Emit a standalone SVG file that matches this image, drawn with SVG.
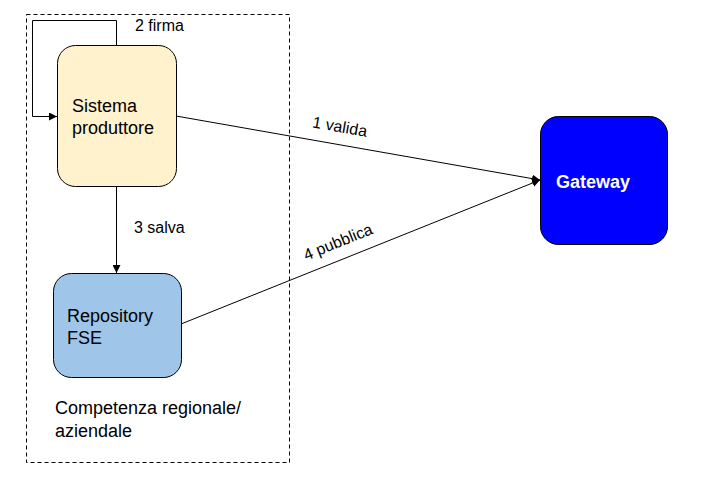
<svg xmlns="http://www.w3.org/2000/svg" width="709" height="487" viewBox="0 0 709 487">
<style>
text{font-family:"Liberation Sans",Arial,sans-serif;fill:#000}
.lbl{font-size:16px}
.nt{font-size:18px}
.edge{fill:none;stroke:#000;stroke-width:1}
</style>
<defs>
<marker id="ah" viewBox="0 0 10 10" refX="10" refY="5" markerWidth="8" markerHeight="8" markerUnits="userSpaceOnUse" orient="auto">
<path d="M0,0 L10,5 L0,10 z" fill="#000"/>
</marker>
</defs>
<rect width="709" height="487" fill="#fff"/>
<g id="container">
<rect x="26.5" y="14.5" width="263" height="448" fill="none" stroke="#000" stroke-dasharray="4,3"/>
<text class="nt" x="55" y="414">Competenza regionale/</text>
<text class="nt" x="55" y="437">aziendale</text>
</g>
<g id="sistema">
<rect x="57.5" y="45.5" width="119" height="141" rx="18" fill="#fff2cc" stroke="#000"/>
<text class="nt" x="72" y="112">Sistema</text>
<text class="nt" x="72" y="134">produttore</text>
</g>
<g id="repository">
<rect x="53.5" y="273.5" width="128" height="104" rx="18" fill="#9fc5e8" stroke="#000"/>
<text class="nt" x="67" y="322">Repository</text>
<text class="nt" x="67" y="344">FSE</text>
</g>
<g id="gateway">
<rect x="540.5" y="116.5" width="127" height="128" rx="18" fill="#0000ff" stroke="#000"/>
<text class="nt" x="556" y="188" style="fill:#fff;font-weight:bold">Gateway</text>
</g>
<g id="connectors">
<path class="edge" d="M116.5,45 V20.5 H32.5 V116.5 H57" marker-end="url(#ah)"/>
<path class="edge" d="M116.5,186 V273" marker-end="url(#ah)"/>
<path class="edge" d="M176,116 L540,180" marker-end="url(#ah)"/>
<path class="edge" d="M181,324 L540,180" marker-end="url(#ah)"/>
<text class="lbl" x="135" y="31">2 firma</text>
<text class="lbl" x="134" y="233">3 salva</text>
<text class="lbl" text-anchor="middle" transform="translate(339,132) rotate(10)">1 valida</text>
<text class="lbl" text-anchor="middle" transform="translate(340,247) rotate(-22)">4 pubblica</text>
</g>
</svg>
